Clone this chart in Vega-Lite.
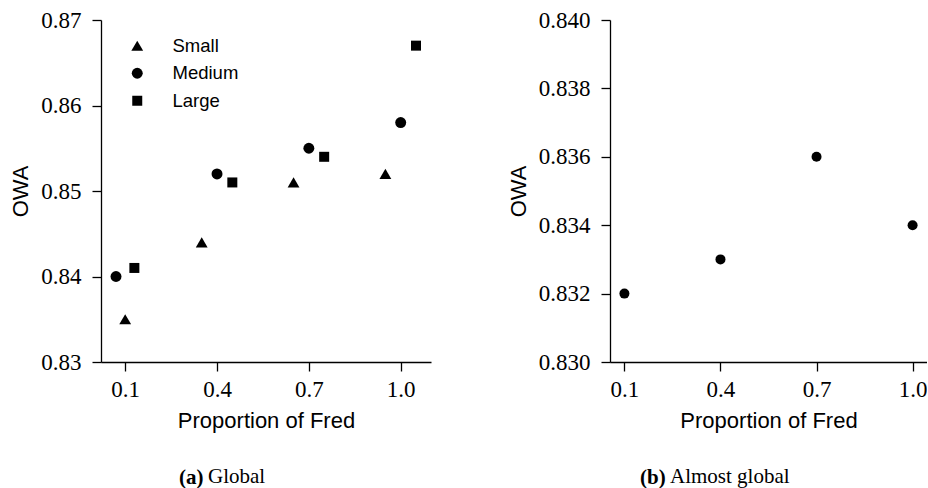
{
  "$schema": "https://vega.github.io/schema/vega-lite/v6.json",
  "padding": {"left": 9, "top": 9, "right": 0, "bottom": 0},
  "background": "white",
  "config": {
    "view": {"stroke": null},
    "concat": {"spacing": 76},
    "style": {"guide-label": {"font": "Liberation Serif", "fontSize": 23, "fill": "black"}},
    "axis": {
      "grid": false,
      "domainColor": "black",
      "domainWidth": 1.3,
      "tickColor": "black",
      "tickWidth": 1.3,
      "tickSize": 9,
      "labelFont": "Liberation Serif",
      "labelFontSize": 23,
      "labelColor": "black",
      "titleFont": "Liberation Sans",
      "titleFontSize": 22,
      "titleFontWeight": "normal",
      "titleColor": "black"
    },
    "axisX": {"labelPadding": 7, "titlePadding": 9},
    "axisY": {"labelPadding": 11, "titlePadding": 8}
  },
  "hconcat": [
    {
      "title": {
        "text": "Global",
        "orient": "bottom",
        "anchor": "start",
        "frame": "group",
        "dx": 107,
        "dy": -26,
        "font": "Liberation Serif",
        "fontSize": 21,
        "fontWeight": "normal",
        "color": "black"
      },
      "vconcat": [
        {
          "width": 330,
          "height": 342,
          "title": {
            "text": "(a)",
            "orient": "bottom",
            "anchor": "start",
            "frame": "group",
            "dx": 78,
            "offset": 36,
            "font": "Liberation Serif",
            "fontSize": 21,
            "fontWeight": "bold",
            "color": "black"
          },
          "data": {
            "values": [
              {"proportion": 0.10, "owa": 0.835, "size": "Small"},
              {"proportion": 0.35, "owa": 0.844, "size": "Small"},
              {"proportion": 0.65, "owa": 0.851, "size": "Small"},
              {"proportion": 0.95, "owa": 0.852, "size": "Small"},
              {"proportion": 0.07, "owa": 0.840, "size": "Medium"},
              {"proportion": 0.40, "owa": 0.852, "size": "Medium"},
              {"proportion": 0.70, "owa": 0.855, "size": "Medium"},
              {"proportion": 1.00, "owa": 0.858, "size": "Medium"},
              {"proportion": 0.13, "owa": 0.841, "size": "Large"},
              {"proportion": 0.45, "owa": 0.851, "size": "Large"},
              {"proportion": 0.75, "owa": 0.854, "size": "Large"},
              {"proportion": 1.05, "owa": 0.867, "size": "Large"}
            ]
          },
          "mark": {"type": "point", "filled": true, "opacity": 1, "color": "black"},
          "encoding": {
            "x": {
              "field": "proportion", "type": "quantitative",
              "scale": {"domain": [0.021, 1.099], "nice": false, "zero": false},
              "axis": {"values": [0.1, 0.4, 0.7, 1.0], "format": ".1f", "title": "Proportion of Fred", "labelFont": "Liberation Serif"}
            },
            "y": {
              "field": "owa", "type": "quantitative",
              "scale": {"domain": [0.83, 0.87], "nice": false, "zero": false},
              "axis": {"values": [0.83, 0.84, 0.85, 0.86, 0.87], "format": ".2f", "title": "OWA", "labelFont": "Liberation Serif"}
            },
            "shape": {
              "field": "size", "type": "nominal",
              "scale": {"domain": ["Small", "Medium", "Large"], "range": ["triangle-up", "circle", "square"]},
              "legend": {
                "title": null,
                "orient": "none",
                "legendX": 27,
                "legendY": 16.5,
                "symbolFillColor": "black",
                "symbolStrokeColor": "black",
                "symbolOpacity": 1,
                "symbolStrokeWidth": 0,
                "labelFont": "Liberation Sans",
                "labelFontSize": 18.5,
                "labelColor": "black",
                "labelOffset": 26,
                "rowPadding": 8.5,
                "padding": 0
              }
            },
            "size": {
              "field": "size", "type": "nominal",
              "scale": {"domain": ["Small", "Medium", "Large"], "range": [140, 100, 100]},
              "legend": {
                "title": null,
                "orient": "none",
                "legendX": 27,
                "legendY": 16.5,
                "symbolFillColor": "black",
                "symbolStrokeColor": "black",
                "symbolOpacity": 1,
                "symbolStrokeWidth": 0,
                "labelFont": "Liberation Sans",
                "labelFontSize": 18.5,
                "labelColor": "black",
                "labelOffset": 26,
                "rowPadding": 8.5,
                "padding": 0
              }
            }
          }
        }
      ]
    },
    {
      "title": {
        "text": "Almost global",
        "orient": "bottom",
        "anchor": "start",
        "frame": "group",
        "dx": 60,
        "dy": -26,
        "font": "Liberation Serif",
        "fontSize": 21,
        "fontWeight": "normal",
        "color": "black"
      },
      "vconcat": [
        {
          "width": 317,
          "height": 342,
          "title": {
            "text": "(b)",
            "orient": "bottom",
            "anchor": "start",
            "frame": "group",
            "dx": 30,
            "offset": 36,
            "font": "Liberation Serif",
            "fontSize": 21,
            "fontWeight": "bold",
            "color": "black"
          },
          "data": {
            "values": [
              {"proportion": 0.1, "owa": 0.832},
              {"proportion": 0.4, "owa": 0.833},
              {"proportion": 0.7, "owa": 0.836},
              {"proportion": 1.0, "owa": 0.834}
            ]
          },
          "mark": {"type": "point", "shape": "circle", "filled": true, "opacity": 1, "size": 100, "color": "black"},
          "encoding": {
            "x": {
              "field": "proportion", "type": "quantitative",
              "scale": {"domain": [0.055, 1.045], "nice": false, "zero": false},
              "axis": {"values": [0.1, 0.4, 0.7, 1.0], "format": ".1f", "title": "Proportion of Fred", "labelFont": "Liberation Serif"}
            },
            "y": {
              "field": "owa", "type": "quantitative",
              "scale": {"domain": [0.83, 0.84], "nice": false, "zero": false},
              "axis": {"values": [0.830, 0.832, 0.834, 0.836, 0.838, 0.840], "format": ".3f", "title": "OWA", "labelFont": "Liberation Serif"}
            }
          }
        }
      ]
    }
  ]
}
